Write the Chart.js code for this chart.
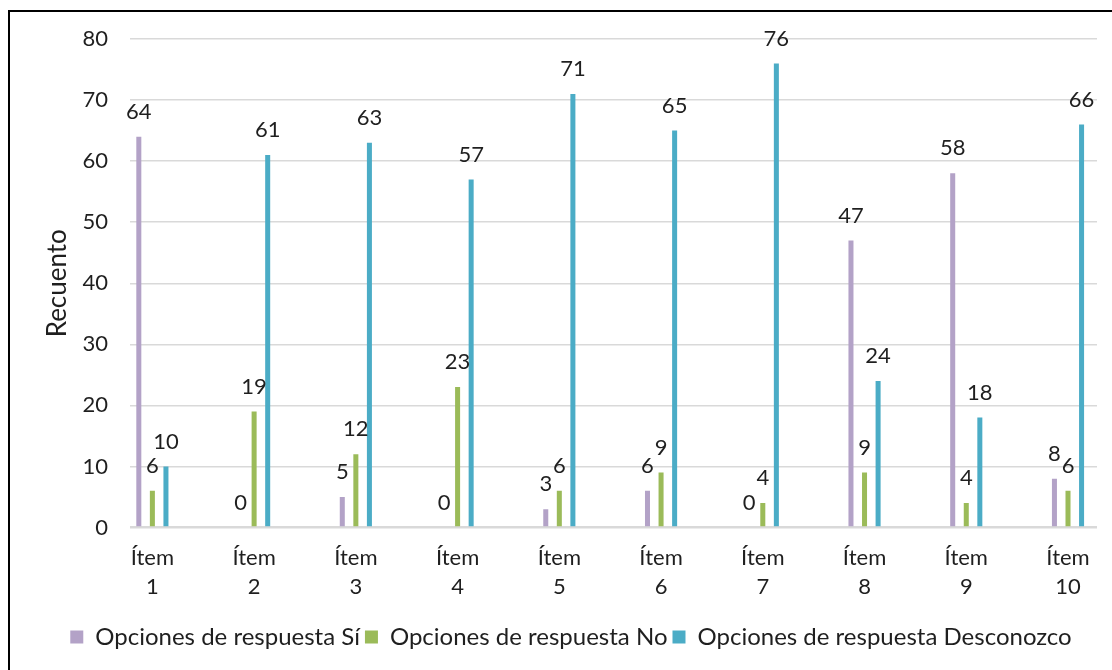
<!DOCTYPE html>
<html lang="es">
<head>
<meta charset="utf-8">
<title>Recuento por ítem</title>
<script src="https://cdn.jsdelivr.net/npm/chart.js@4.4.0/dist/chart.umd.js"></script>
<style>
    html, body { margin: 0; padding: 0; background: #ffffff; overflow: hidden; }
    body { width: 1112px; height: 670px; position: relative; }
    .chart-frame {
        position: absolute; left: 8px; top: 10px;
        width: 1300px; height: 900px;
        border: 2px solid #000000; box-sizing: border-box;
    }
    .chart-wrap { position: absolute; left: 0; top: 0; width: 1112px; height: 670px; }
</style>
</head>
<body>
<div class="chart-frame"></div>
<div class="chart-wrap"><canvas id="chart" width="1112" height="670"></canvas></div>
<script>
    'use strict';

    // Chart data
    const categories = ['Ítem 1', 'Ítem 2', 'Ítem 3', 'Ítem 4', 'Ítem 5', 'Ítem 6', 'Ítem 7', 'Ítem 8', 'Ítem 9', 'Ítem 10'];
    const seriesNames = ['Opciones de respuesta Sí', 'Opciones de respuesta No', 'Opciones de respuesta Desconozco'];
    const valuesSi = [64, 0, 5, 0, 3, 6, 0, 47, 58, 8];
    const valuesNo = [6, 19, 12, 23, 6, 9, 4, 9, 4, 6];
    const valuesDesconozco = [10, 61, 63, 57, 71, 65, 76, 24, 18, 66];
    const yTicks = [0, 10, 20, 30, 40, 50, 60, 70, 80];
    const axisTitle = 'Recuento';

    const seriesColors = ['#b3a2c7', '#9bbb59', '#4bacc6'];
    const FONT = 'Lato, "Open Sans", sans-serif';
    const TEXT_COLOR = '#1f1f1f';

    /**
     * Draw the value above every bar (no datalabels plugin offline)
     */
    const valueLabels = {
        id: 'valueLabels',
        afterDatasetsDraw(chart) {
            const ctx = chart.ctx;
            ctx.save();
            ctx.font = '22px ' + FONT;
            ctx.fillStyle = TEXT_COLOR;
            ctx.textAlign = 'center';
            ctx.textBaseline = 'middle';
            chart.data.datasets.forEach((ds, i) => {
                chart.getDatasetMeta(i).data.forEach((bar, j) => {
                    ctx.fillText(String(ds.data[j].y), bar.x, bar.y - 25);
                });
            });
            ctx.restore();
        }
    };

    function buildDatasets() {
        const series = [valuesSi, valuesNo, valuesDesconozco];
        return series.map((values, i) => ({
            label: seriesNames[i],
            data: values.map((v, j) => ({ x: j, y: v })),
            backgroundColor: seriesColors[i],
            borderWidth: 0,
            categoryPercentage: 0.4,
            barPercentage: 0.37
        }));
    }

    function createChart() {
        const ctx = document.getElementById('chart').getContext('2d');

        return new Chart(ctx, {
            type: 'bar',
            data: { datasets: buildDatasets() },
            plugins: [valueLabels],
            options: {
                responsive: false,
                animation: false,
                layout: { padding: { left: 45, right: 15, top: 39, bottom: 11 } },
                plugins: {
                    tooltip: { enabled: false },
                    legend: {
                        position: 'bottom',
                        labels: {
                            boxWidth: 13,
                            boxHeight: 13,
                            padding: 5,
                            color: TEXT_COLOR,
                            font: { family: FONT, size: 24 }
                        }
                    }
                },
                scales: {
                    x: {
                        type: 'linear',
                        offset: false,
                        min: -0.22,
                        max: 9.285,
                        afterBuildTicks: scale => {
                            scale.ticks = categories.map((c, i) => ({ value: i }));
                        },
                        afterFit: scale => { scale.height = 92.5; },
                        ticks: {
                            padding: 8,
                            color: TEXT_COLOR,
                            maxRotation: 0,
                            font: { family: FONT, size: 22, lineHeight: 1.32 },
                            callback: value => categories[value].split(' ')
                        },
                        grid: { display: false },
                        border: { display: false }
                    },
                    y: {
                        min: yTicks[0],
                        max: yTicks[yTicks.length - 1],
                        afterBuildTicks: scale => {
                            scale.ticks = yTicks.map(v => ({ value: v }));
                        },
                        afterFit: scale => { scale.width = 85; },
                        ticks: {
                            padding: 22,
                            color: TEXT_COLOR,
                            font: { family: FONT, size: 22 }
                        },
                        grid: {
                            color: '#d9d9d9',
                            lineWidth: c => (c.tick && c.tick.value === 0 ? 2.5 : 1.5),
                            drawTicks: false
                        },
                        border: { display: false },
                        title: {
                            display: true,
                            text: axisTitle,
                            color: TEXT_COLOR,
                            padding: 0,
                            font: { family: FONT, size: 26, lineHeight: 1 }
                        }
                    }
                }
            }
        });
    }

    createChart();
</script>
</body>
</html>
